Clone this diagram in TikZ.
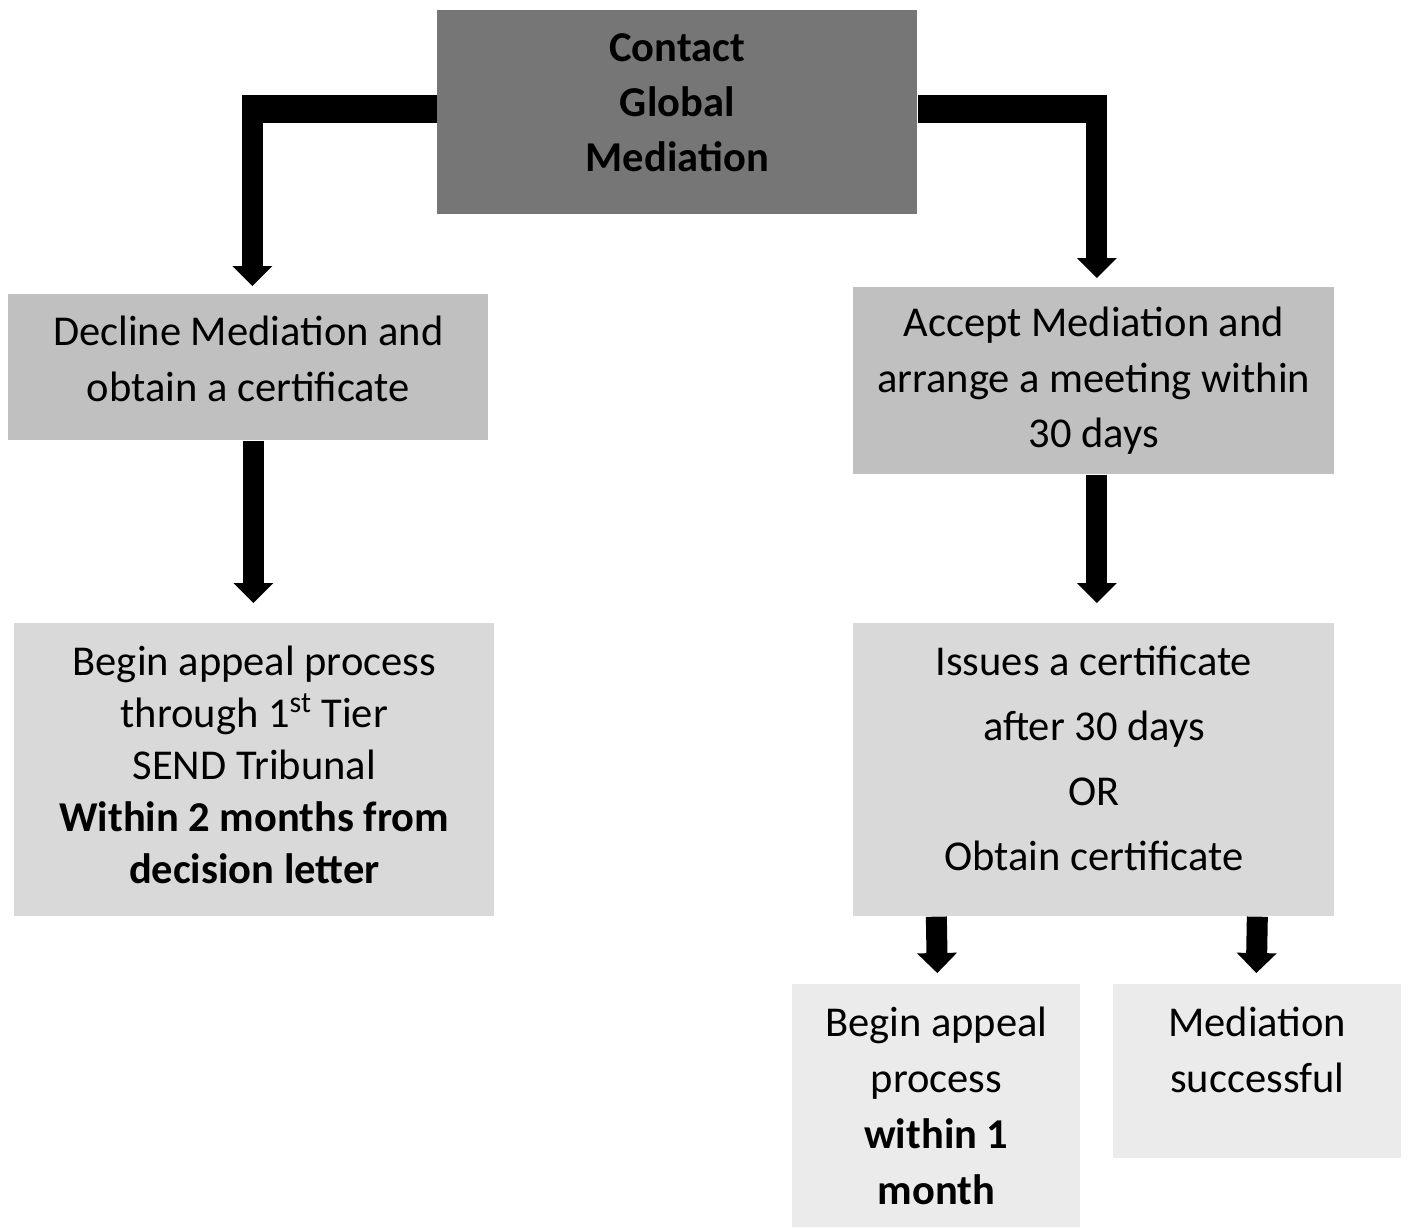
\documentclass[tikz,border=0pt]{standalone}
\usepackage{fontspec}
\setmainfont{Carlito}
\usetikzlibrary{arrows.meta,calc}
\definecolor{boxdark}{HTML}{767676}
\definecolor{boxmid}{HTML}{C0C0C0}
\definecolor{boxlight}{HTML}{D9D9D9}
\definecolor{boxpale}{HTML}{EBEBEB}
\begin{document}
\begin{tikzpicture}[x=0.02cm,y=-0.02cm,
    box/.style={rectangle,inner sep=0pt,anchor=north west},
    txt/.style={align=center,font=\fontsize{24.2}{#1}\selectfont},
    bar/.style={line width=0.56cm},
    flow/.style={line width=0.42cm,-{Triangle[width=0.8cm,length=0.4cm,line width=0pt]}}]
  \useasboundingbox (0,0) rectangle (1408,1228);
  % boxes
  \node[box,fill=boxdark,minimum width=9.6cm,minimum height=4.08cm,
    label={[txt=31.3pt,yshift=0.2cm]center:\textbf{Contact}\\\textbf{Global}\\\textbf{Mediation}}] (contact) at (437,10) {};
  \node[box,fill=boxmid,minimum width=9.6cm,minimum height=2.92cm,
    label={[txt=31.9pt,yshift=0.16cm]center:Decline Mediation and\\obtain a certificate}] (decline) at (8,294) {};
  \node[box,fill=boxmid,minimum width=9.62cm,minimum height=3.74cm,
    label={[txt=31.6pt]center:Accept Mediation and\\arrange a meeting within\\30 days}] (accept) at (853,287) {};
  \node[box,fill=boxlight,minimum width=9.6cm,minimum height=5.86cm,
    label={[txt=29.6pt,yshift=0.09cm]center:Begin appeal process\\through 1\textsuperscript{st} Tier\\SEND Tribunal\\\textbf{Within 2 months from}\\\textbf{decision letter}}] (appeal) at (14,623) {};
  \node[box,fill=boxlight,minimum width=9.62cm,minimum height=5.86cm,
    label={[txt=37pt,yshift=0.23cm]center:Issues a certificate\\after 30 days\\OR\\Obtain certificate}] (issues) at (853,623) {};
  \node[box,fill=boxpale,minimum width=5.76cm,minimum height=4.86cm,
    label={[txt=31.7pt]center:Begin appeal\\process\\\textbf{within 1}\\\textbf{month}}] (appealtwo) at (792,984) {};
  \node[box,fill=boxpale,minimum width=5.76cm,minimum height=3.48cm,
    label={[txt=31.9pt,yshift=0.42cm]center:Mediation\\successful}] (success) at (1113,984) {};
  % connectors
  \coordinate (lturn) at ($(decline.north |- contact.west)+(4,-3)$);
  \coordinate (rturn) at ($(accept.north |- contact.west)+(3,-3)$);
  \draw[bar] ($(contact.west)+(0,-3)$) -- ($(lturn)+(-10.5,0)$);
  \draw[flow] ($(lturn)+(0,-14)$) -- ($(decline.north)+(4,-8)$);
  \draw[bar] ($(contact.east)+(0,-3)$) -- ($(rturn)+(10.5,0)$);
  \draw[flow] ($(rturn)+(0,-14)$) -- ($(accept.north)+(3,-9)$);
  \draw[flow] ($(decline.south)+(5,0)$) -- ($(appeal.north)+(-1,-20)$);
  \draw[flow] ($(accept.south)+(3,0)$) -- ($(issues.north)+(3,-20)$);
  \draw[flow] (issues.south -| appealtwo.north) -- ($(appealtwo.north)+(1,-11)$);
  \draw[flow] (issues.south -| success.north) -- ($(success.north)+(-1,-11)$);
\end{tikzpicture}
\end{document}
